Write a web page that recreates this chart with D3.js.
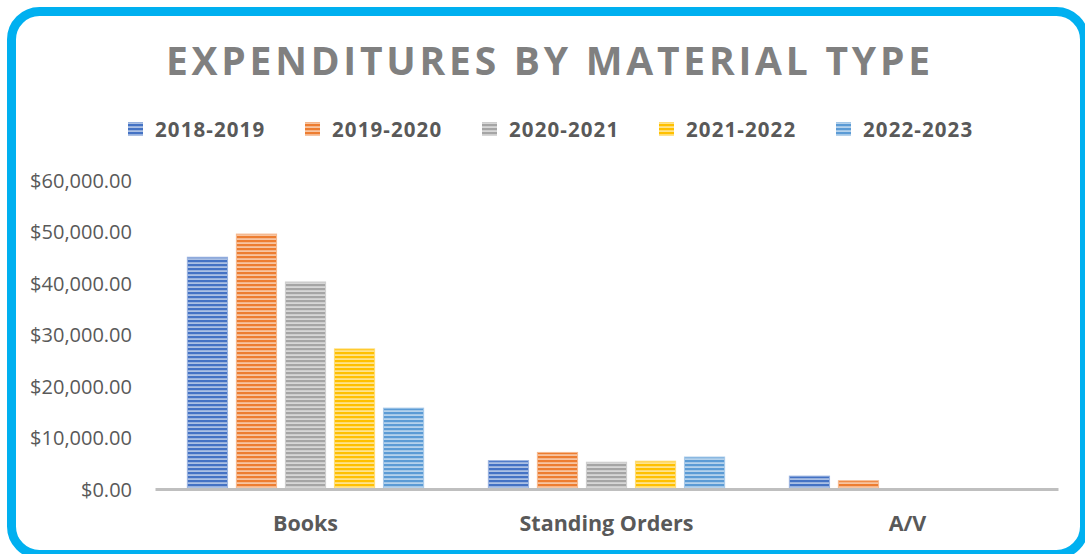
<!DOCTYPE html>
<html>
<head>
<meta charset="utf-8">
<script src="https://cdn.jsdelivr.net/npm/d3@7/dist/d3.min.js"></script>
<style>
  html, body { margin: 0; padding: 0; background: #fff; }
  svg { display: block; font-family: "Open Sans", sans-serif; }
</style>
</head>
<body>
<div id="chart"></div>
<script>
// chart data
const categories = ["Books", "Standing Orders", "A/V"];
const seriesNames = ["2018-2019", "2019-2020", "2020-2021", "2021-2022", "2022-2023"];
const fy2018 = [45000, 5500, 2500];
const fy2019 = [49500, 7100, 1600];
const fy2020 = [40200, 5200, 0];
const fy2021 = [27200, 5400, 0];
const fy2022 = [15700, 6200, 0];
const yTicks = [0, 10000, 20000, 30000, 40000, 50000, 60000];

const seriesValues = [fy2018, fy2019, fy2020, fy2021, fy2022];
const colors = ["#4472C4", "#ED7D31", "#A5A5A5", "#FFC000", "#5B9BD5"];

const W = 1085, H = 554;
const margin = {top: 180, right: 27, bottom: 65, left: 155};

const svg = d3.select("#chart").append("svg")
    .attr("width", W)
    .attr("height", H);

// striped fills, like the office "horizontal" pattern
const defs = svg.append("defs");
colors.forEach((c, i) => {
  const light = d3.interpolateRgb(c, "#ffffff")(0.55);
  const p = defs.append("pattern")
      .attr("id", "stripe" + i)
      .attr("patternUnits", "userSpaceOnUse")
      .attr("width", 8)
      .attr("height", 4);
  p.append("rect").attr("width", 8).attr("height", 4).attr("fill", light);
  p.append("rect").attr("width", 8).attr("height", 2.2).attr("fill", c);
});

// outer frame
svg.append("rect")
    .attr("x", 11.5).attr("y", 11.5)
    .attr("width", 1073).attr("height", 543)
    .attr("rx", 28)
    .attr("fill", "#fff")
    .attr("stroke", "#00B0F0")
    .attr("stroke-width", 9);

// title
svg.append("text")
    .attr("x", 548)
    .attr("y", 74.5)
    .attr("text-anchor", "middle")
    .attr("fill", "#808080")
    .attr("font-size", 39)
    .attr("font-weight", 700)
    .attr("textLength", 764)
    .attr("lengthAdjust", "spacing")
    .text("EXPENDITURES BY MATERIAL TYPE");

// legend
const legend = svg.append("g").attr("transform", "translate(128,0)");
seriesNames.forEach((name, i) => {
  const g = legend.append("g").attr("transform", "translate(" + (i * 177) + ",0)");
  g.append("rect")
      .attr("x", 0).attr("y", 122)
      .attr("width", 15).attr("height", 14)
      .attr("fill", "url(#stripe" + i + ")");
  g.append("text")
      .attr("x", 27).attr("y", 137)
      .attr("fill", "#595959")
      .attr("font-size", 20.5)
      .attr("font-weight", 700)
      .attr("letter-spacing", 1.1)
      .text(name);
});

// scales
const x = d3.scaleBand()
    .domain(categories)
    .range([margin.left, W - margin.right]);

const xInner = d3.scaleBand()
    .domain(d3.range(seriesNames.length))
    .range([0, x.bandwidth()])
    .paddingInner(0.18)
    .paddingOuter(0.66);

const y = d3.scaleLinear()
    .domain([0, 60000])
    .range([489, 180]);

// y axis labels
const yAxis = svg.append("g")
    .attr("transform", "translate(132,0)")
    .call(d3.axisLeft(y).tickValues(yTicks).tickSize(0).tickPadding(0)
      .tickFormat(d => "$" + d3.format(",.2f")(d)));
yAxis.select(".domain").remove();
yAxis.selectAll("text")
    .attr("fill", "#595959")
    .attr("font-size", 20)
    .attr("font-family", "Open Sans, sans-serif")
    .attr("dy", "0.36em");

// bars
categories.forEach((cat, ci) => {
  const g = svg.append("g").attr("transform", "translate(" + x(cat) + ",0)");
  seriesValues.forEach((vals, si) => {
    const v = vals[ci];
    if (v <= 0) return;
    g.append("rect")
        .attr("x", xInner(si))
        .attr("y", y(v))
        .attr("width", xInner.bandwidth())
        .attr("height", y(0) - y(v))
        .attr("fill", "url(#stripe" + si + ")")
        .attr("stroke", d3.interpolateRgb(colors[si], "#ffffff")(0.45))
        .attr("stroke-width", 1);
  });
});

// x axis line + labels
const xAxis = svg.append("g")
    .attr("transform", "translate(0,489)")
    .call(d3.axisBottom(x).tickSize(0).tickPadding(0));
xAxis.select(".domain")
    .attr("stroke", "#BFBFBF")
    .attr("stroke-width", 3);
xAxis.selectAll("text")
    .attr("y", 42)
    .attr("dy", 0)
    .attr("fill", "#595959")
    .attr("font-size", 21.5)
    .attr("font-weight", 700)
    .attr("font-family", "Open Sans, sans-serif");
</script>
</body>
</html>
